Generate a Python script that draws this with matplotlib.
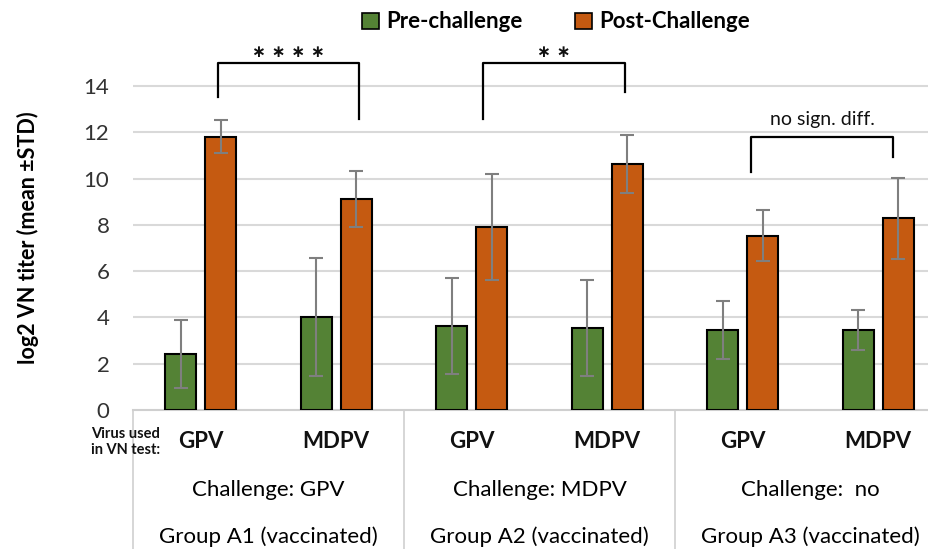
import matplotlib
matplotlib.use("Agg")
import matplotlib.pyplot as plt
import matplotlib.transforms as mtransforms
from matplotlib.patches import Patch
import numpy as np

plt.rcParams['font.family'] = ['Lato', 'DejaVu Sans']

# --- Data ---
virus = ["GPV", "MDPV", "GPV", "MDPV", "GPV", "MDPV"]
challenge = ["Challenge: GPV", "Challenge: MDPV", "Challenge:  no"]
groups = ["Group A1 (vaccinated)", "Group A2 (vaccinated)", "Group A3 (vaccinated)"]

pre_mean = [2.42, 4.02, 3.64, 3.53, 3.46, 3.46]
pre_std = [1.45, 2.53, 2.07, 2.07, 1.27, 0.87]
post_mean = [11.8, 9.11, 7.9, 10.61, 7.52, 8.28]
post_std = [0.72, 1.22, 2.3, 1.25, 1.1, 1.75]

# brackets: (x left, x right, y top, y left end, y right end, label, label y)
brackets = [
    (0.13, 1.17, 15.0, 13.53, 12.57, "* * * *", 15.45),
    (2.08, 3.13, 15.0, 12.57, 13.74, "* *", 15.45),
    (4.06, 5.11, 11.79, 10.28, 10.93, "no sign. diff.", 12.55),
]

GREEN = "#548235"
ORANGE = "#C55A11"
GRID = "#d9d9d9"

fig = plt.figure(figsize=(9.29, 5.49), dpi=100)
ax = fig.add_axes([133 / 929, 1 - 410 / 549, 813 / 929, (410 - 39.6) / 549])

x = np.arange(len(virus))
off = 0.148
w = 0.23
err_kw = dict(ecolor="#7f7f7f", elinewidth=1.5, capsize=5, capthick=1.5)
ax.bar(x - off, pre_mean, w, yerr=pre_std, color=GREEN, edgecolor="black",
       linewidth=1.5, error_kw=err_kw, zorder=3, label="Pre-challenge")
ax.bar(x + off, post_mean, w, yerr=post_std, color=ORANGE, edgecolor="black",
       linewidth=1.5, error_kw=err_kw, zorder=3, label="Post-Challenge")

ax.set_xlim(-0.5, 5.5)
ax.set_ylim(0, 16)
ax.set_yticks(range(0, 15, 2))
ax.tick_params(axis="y", length=0, pad=17, labelsize=16, labelcolor="#333333")
ax.set_xticks([])
for yv in range(2, 15, 2):
    ax.axhline(yv, color=GRID, linewidth=1.5, zorder=1)
for s in ax.spines.values():
    s.set_visible(False)

# significance brackets
for xl, xr, yt, yl, yr, lab, ly in brackets:
    ax.plot([xl, xl, xr, xr], [yl, yt, yt, yr], color="black", lw=1.6,
            zorder=4, clip_on=False)
    if "*" in lab:
        ax.text((xl + xr) / 2, ly, lab.replace("*", "\u2217"), ha="center",
                va="center", fontsize=12, fontweight="bold", color="#111111",
                family="DejaVu Sans")
    else:
        ax.text((xl + xr) / 2, ly, lab, ha="center", va="center", fontsize=14,
                color="#111111")

# table below the axis
tr = mtransforms.blended_transform_factory(ax.transData, fig.transFigure)
y0 = 1 - 410 / 549
ax.plot([-0.5, 5.5], [y0, y0], transform=tr, color="#cfcfcf", lw=1.5, clip_on=False)
for xv in [-0.5, 1.5, 3.5]:
    ax.plot([xv, xv], [y0, 0], transform=tr, color="#cfcfcf", lw=1.2, clip_on=False)

for i, v in enumerate(virus):
    ax.text(i, 1 - 441 / 549, v, transform=tr, ha="center", va="center",
            fontsize=16, fontweight="bold", color="#111111")
for j in range(3):
    ax.text(2 * j + 0.5, 1 - 490 / 549, challenge[j], transform=tr, ha="center",
            va="center", fontsize=16, color="black")
    ax.text(2 * j + 0.5, 1 - 537 / 549, groups[j], transform=tr, ha="center",
            va="center", fontsize=16, color="black")

fig.text(126 / 929, 1 - 442 / 549, "Virus used\nin VN test:", ha="center",
         va="center", fontsize=10.5, fontweight="bold", linespacing=1.2,
         color="#111111")

fig.text(28 / 929, 1 - 238 / 549, "log2 VN titer (mean \u00b1STD)", rotation=90,
         ha="center", va="center", fontsize=15.5, fontweight="bold")

handles = [Patch(facecolor=GREEN, edgecolor="black", linewidth=1.2),
           Patch(facecolor=ORANGE, edgecolor="black", linewidth=1.2)]
fig.legend(handles, ["Pre-challenge", "Post-Challenge"], loc="center",
           bbox_to_anchor=(556 / 929, 1 - 22 / 549), ncol=2, frameon=False,
           prop=dict(size=16, weight="bold"), handlelength=0.75,
           handleheight=0.75, handletextpad=0.3, columnspacing=2.4)

fig.savefig("out.png", dpi=100)
